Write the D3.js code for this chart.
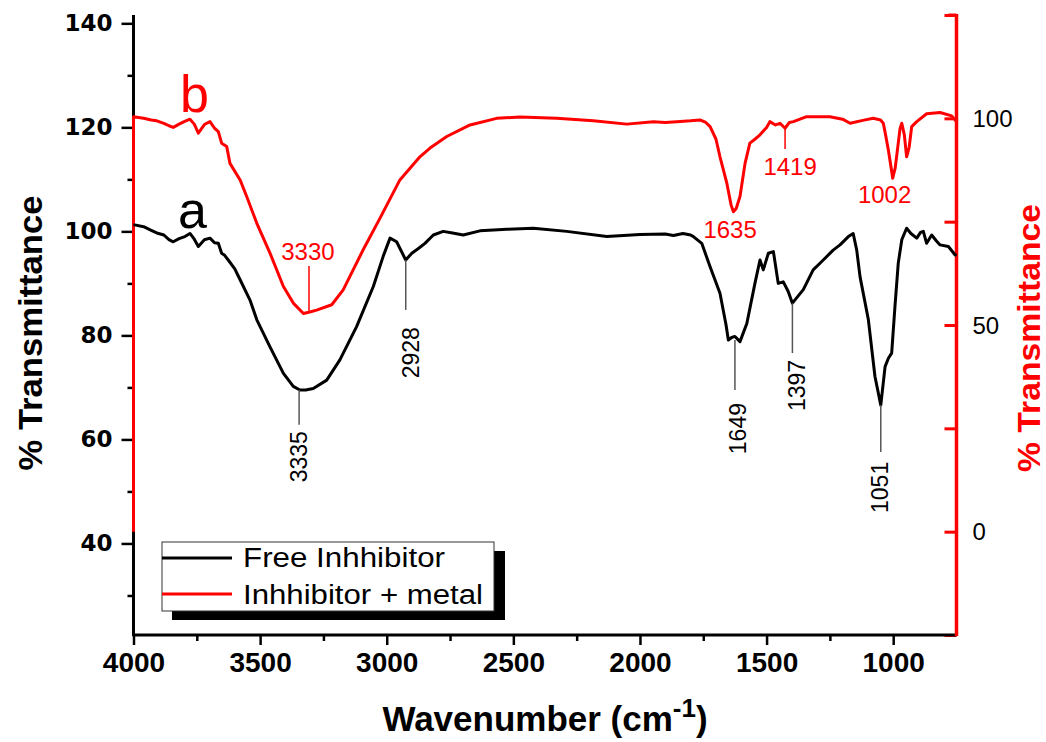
<!DOCTYPE html>
<html><head><meta charset="utf-8">
<script src="https://cdn.jsdelivr.net/npm/d3@7"></script>
<style>body{margin:0;background:#fff}svg{display:block}</style>
</head><body><svg id="chart" width="1046" height="742"></svg>
<script>
// ---------- data ----------
const xMajorTicks = [4000,3500,3000,2500,2000,1500,1000];
const xMinorTicks = [3750,3250,2750,2250,1750,1250];
const leftMajorTicks = [40,60,80,100,120,140];
const leftMinorTicks = [30,50,70,90,110,130];
const rightTicks = [-25,0,25,50,75,100,125];
const rightLabels = [0,50,100];
const seriesNames = ["Free Inhhibitor","Inhhibitor + metal"];

// curve a (Free Inhibitor) - left axis
const wnA = [4000,3960,3930,3908,3880,3860,3843,3820,3797,3777,3760,3744,3720,3698,3680,3665,3652,3640,3626,3600,3579,3540,3513,3461,3408,3369,3343,3320,3290,3237,3185,3119,3053,3014,2987,2961,2925,2901,2875,2849,2816,2777,2740,2698,2632,2526,2421,2289,2131,2000,1900,1868,1830,1800,1789,1756,1723,1684,1660,1651,1638,1625,1605,1578,1546,1526,1513,1493,1473,1454,1434,1415,1398,1375,1355,1316,1282,1237,1210,1177,1158,1144,1131,1098,1072,1049,1032,1019,1006,993,980,966,947,930,907,892,881,868,848,830,815,782,756,750];
const tA  = [101.3,100.9,100.2,99.7,99.3,98.4,98.0,98.6,99.0,99.6,98.5,97.1,98.4,98.7,97.8,97.7,95.8,95.4,94.5,92.8,90.7,86.8,83.0,77.8,72.7,70.2,69.5,69.5,69.8,71.4,75.3,81.7,89.4,95.2,98.7,98.0,94.5,95.8,96.7,97.7,99.3,100.0,99.7,99.3,100.1,100.4,100.6,100.0,99.0,99.4,99.5,99.2,99.6,99.3,99.0,97.7,93.2,88.1,82.0,79.1,79.6,79.8,78.8,82.3,90.0,94.5,92.6,95.8,96.1,90.0,90.3,88.5,86.2,87.6,88.8,92.6,94.2,96.4,97.4,99.0,99.6,96.4,91.3,83.0,72.1,66.6,74.0,75.6,76.6,85.6,93.9,98.4,100.6,99.6,98.7,99.8,100.0,97.7,99.3,98.2,97.4,97.1,95.5,95.3];

// curve b (Inhibitor + metal) - right axis
const wnB = [4000,4000,3960,3930,3908,3880,3860,3843,3820,3800,3777,3760,3744,3720,3698,3680,3665,3652,3632,3619,3579,3553,3513,3461,3408,3369,3329,3300,3277,3217,3172,3093,3027,2948,2869,2829,2763,2671,2566,2474,2329,2184,2052,1947,1900,1855,1800,1763,1740,1723,1700,1684,1657,1640,1631,1620,1605,1585,1566,1545,1526,1500,1487,1465,1447,1427,1410,1394,1342,1250,1200,1170,1120,1079,1050,1039,1030,1019,1008,1002,992,980,973,966,956,947,937,927,907,868,815,769,750];
const tB  = [0,100.4,100.0,99.6,99.4,98.8,98.2,97.8,98.6,99.2,99.8,98.6,96.4,98.5,99.2,97.6,96.8,94.0,93.2,89.1,85.1,81.1,74.6,67.4,59.3,55.3,52.8,53.2,53.6,54.9,58.5,68.2,75.8,85.1,90.7,92.8,95.6,98.4,100.0,100.3,100.0,99.4,98.6,99.2,99.0,99.2,99.4,99.6,99.0,98.0,95.0,90.7,84.3,79.0,77.4,78.2,81.1,89.1,94.0,95.0,96.0,97.8,99.2,98.4,98.8,97.6,99.0,99.2,100.4,100.4,99.8,98.8,99.5,100.0,99.6,98.8,96.0,92.3,88.0,85.5,88.0,94.0,97.5,98.8,96.0,90.7,93.0,98.0,99.2,101.1,101.4,100.6,99.2];

// peak annotations (wavenumber positions, values in the axis units of the curve)
const peaksA = [
  {label:"3335", wn:3346, from:69.5, to:62.8, textWn:3346, textTop:61.6},
  {label:"2928", wn:2925, from:94.5, to:84.9, textWn:2904, textTop:81.6},
  {label:"1649", wn:1625, from:79.1, to:69.5, textWn:1615, textTop:67.0},
  {label:"1397", wn:1398, from:86.2, to:76.6, textWn:1380, textTop:75.3},
  {label:"1051", wn:1049, from:66.6, to:57.6, textWn:1052, textTop:55.7}
];
const peaksB = [
  {label:"3330", wn:3307, from:64.3, to:53.4, textWn:3311, textBase:65.7},
  {label:"1635", wn:null, textWn:1644, textBase:71.1},
  {label:"1419", wn:1427, from:97.7, to:92.6, textWn:1407, textBase:86.3},
  {label:"1002", wn:null, textWn:1034, textBase:79.5}
];
const curveTags = [{label:"a", wn:3824, v:100.7, axis:"left"},{label:"b", wn:3816, v:101.5, axis:"right"}];

// ---------- chart ----------
const svg = d3.select("#chart");
const L = 133.5, R = 956.5, T = 15, B = 635;
const x = d3.scaleLinear().domain([4000,750]).range([L,R]);
const yL = d3.scaleLinear().domain([22.4,141.6]).range([B,T]);
const yR = d3.scaleLinear().domain([-25,125]).range([B,T]);

const BLACK = "#000", RED = "#ff0000";

// bottom axis
const gx = svg.append("g").attr("transform",`translate(0,${B})`)
  .call(d3.axisBottom(x).tickValues(xMajorTicks).tickSize(10).tickPadding(6).tickFormat(d3.format("d")));
svg.append("g").attr("transform",`translate(0,${B})`)
  .call(d3.axisBottom(x).tickValues(xMinorTicks).tickSize(6).tickFormat(""));
// left axis
const gl = svg.append("g").attr("transform",`translate(${L},0)`)
  .call(d3.axisLeft(yL).tickValues(leftMajorTicks).tickSize(12).tickPadding(9));
svg.append("g").attr("transform",`translate(${L},0)`)
  .call(d3.axisLeft(yL).tickValues(leftMinorTicks).tickSize(6).tickFormat(""));
// right axis
const gr = svg.append("g").attr("transform",`translate(${R},0)`)
  .call(d3.axisRight(yR).tickValues(rightTicks).tickSizeInner(-12).tickSizeOuter(0).tickPadding(16)
     .tickFormat(d => rightLabels.includes(d) ? d : ""));

svg.selectAll(".domain").remove();
svg.selectAll(".tick line").attr("stroke-width",2.5);
gx.selectAll(".tick line").attr("stroke",BLACK);
gr.selectAll(".tick line").attr("stroke",RED).attr("stroke-width",3);

// axis lines
svg.append("line").attr("x1",L).attr("x2",L).attr("y1",T).attr("y2",B+1).attr("stroke",BLACK).attr("stroke-width",3);
svg.append("line").attr("x1",L-1).attr("x2",R).attr("y1",B).attr("y2",B).attr("stroke",BLACK).attr("stroke-width",3);
svg.append("line").attr("x1",R).attr("x2",R).attr("y1",T-1).attr("y2",B+1).attr("stroke",RED).attr("stroke-width",3.5);
svg.append("line").attr("x1",R-8).attr("x2",R).attr("y1",T).attr("y2",T).attr("stroke",RED).attr("stroke-width",3);

gx.selectAll(".tick text").attr("font-family","Liberation Sans, Arial, sans-serif").attr("font-weight","bold")
  .attr("font-size",28).attr("fill",BLACK).attr("dy","0.74em");
gl.selectAll(".tick text").attr("font-family","DejaVu Sans, sans-serif").attr("font-weight","bold")
  .attr("font-size",23).attr("fill",BLACK);
gr.selectAll(".tick text").attr("font-family","Liberation Sans, Arial, sans-serif")
  .attr("font-size",24).attr("fill",BLACK).attr("dy","0.34em");

// curves
const lineA = d3.line().x((d,i)=>x(wnA[i])).y((d,i)=>yL(tA[i]));
const lineB = d3.line().x((d,i)=>x(wnB[i])).y((d,i)=>yR(tB[i]));
svg.append("path").attr("d",lineB(tB)).attr("fill","none").attr("stroke",RED).attr("stroke-width",3).attr("stroke-linejoin","round");
svg.append("path").attr("d",lineA(tA)).attr("fill","none").attr("stroke",BLACK).attr("stroke-width",3).attr("stroke-linejoin","round");

// curve tags
curveTags.forEach(c=>{
  const yy = c.axis==="left" ? yL(c.v) : yR(c.v);
  svg.append("text").attr("x",x(c.wn)).attr("y",yy).text(c.label)
    .attr("font-family","Liberation Sans, Arial, sans-serif").attr("font-size",52)
    .attr("fill", c.axis==="left"?BLACK:RED);
});

// peak annotations a
peaksA.forEach(p=>{
  svg.append("line").attr("x1",x(p.wn)).attr("x2",x(p.wn)).attr("y1",yL(p.from)).attr("y2",yL(p.to))
    .attr("stroke","#555").attr("stroke-width",1.5);
  svg.append("text").attr("transform",`translate(${x(p.textWn)},${yL(p.textTop)}) rotate(-90)`)
    .attr("text-anchor","end").attr("dy","0.36em").text(p.label)
    .attr("font-family","Liberation Sans, Arial, sans-serif").attr("font-size",23).attr("fill",BLACK);
});
// peak annotations b
peaksB.forEach(p=>{
  if(p.wn!==null){
    svg.append("line").attr("x1",x(p.wn)).attr("x2",x(p.wn)).attr("y1",yR(p.from)).attr("y2",yR(p.to))
      .attr("stroke",RED).attr("stroke-width",1.5);
  }
  svg.append("text").attr("x",x(p.textWn)).attr("y",yR(p.textBase)).attr("text-anchor","middle").text(p.label)
    .attr("font-family","Liberation Sans, Arial, sans-serif").attr("font-size",24).attr("fill",RED);
});

// axis titles
svg.append("text").attr("transform",`translate(${(L+R)/2},731)`).attr("text-anchor","middle")
  .attr("font-family","Liberation Sans, Arial, sans-serif").attr("font-weight","bold").attr("font-size",35)
  .call(t=>{
    t.append("tspan").text("Wavenumber (cm");
    t.append("tspan").attr("dy",-14).attr("font-size",26).text("-1");
    t.append("tspan").attr("dy",14).text(")");
  });
svg.append("text").attr("transform",`translate(42,333) rotate(-90)`).attr("text-anchor","middle")
  .attr("font-family","Liberation Sans, Arial, sans-serif").attr("font-weight","bold").attr("font-size",33)
  .attr("textLength",275).attr("lengthAdjust","spacingAndGlyphs").text("% Transmittance");
svg.append("text").attr("transform",`translate(1040,338) rotate(-90)`).attr("text-anchor","middle")
  .attr("font-family","Liberation Sans, Arial, sans-serif").attr("font-weight","bold").attr("font-size",32)
  .attr("fill",RED).attr("textLength",268).attr("lengthAdjust","spacingAndGlyphs").text("% Transmittance");

// legend
const lg = svg.append("g");
lg.append("rect").attr("x",172).attr("y",551).attr("width",333).attr("height",69).attr("fill",BLACK);
lg.append("rect").attr("x",162).attr("y",542).attr("width",332).attr("height",69).attr("fill","#fff").attr("stroke","#333").attr("stroke-width",1);
const legColors = [BLACK, RED], legY = [558, 594], legBase = [567, 604], legW = [202, 240];
seriesNames.forEach((n,i)=>{
  lg.append("line").attr("x1",162).attr("x2",232).attr("y1",legY[i]).attr("y2",legY[i]).attr("stroke",legColors[i]).attr("stroke-width",3);
  lg.append("text").attr("x",243).attr("y",legBase[i]).text(n)
    .attr("font-family","Liberation Sans, Arial, sans-serif").attr("font-size",27)
    .attr("textLength",legW[i]).attr("lengthAdjust","spacingAndGlyphs");
});
</script></body></html>
